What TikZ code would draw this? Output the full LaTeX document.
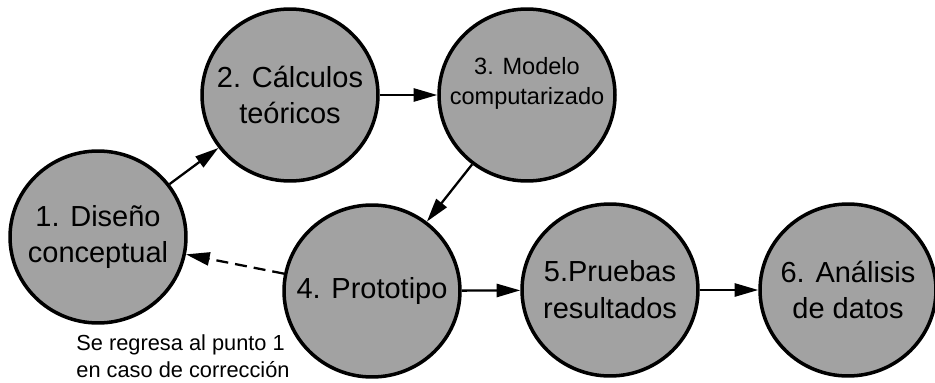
\documentclass[tikz,border=0pt]{standalone}
\usepackage{fontspec}
\setmainfont{Liberation Sans}
\usepackage{xcolor}
\definecolor{stagegray}{RGB}{162,162,162}
\usetikzlibrary{arrows.meta,shapes.geometric}
\tikzset{>={Triangle[length=13.5pt,width=7.5pt]}}
\tikzset{
  stage/.style={
    ellipse, draw=black, line width=2pt, fill=stagegray,
    minimum width=3.52cm, minimum height=3.44cm, inner xsep=-40pt, inner ysep=-20pt,
    align=center, font=\fontsize{16.5}{21}\selectfont
  }}
\tikzset{
  flow/.style={->, line width=1.3pt}}

\begin{document}
\begin{tikzpicture}[x=0.02cm,y=-0.02cm]
    \useasboundingbox (0,0) rectangle (935,382);
%   stages
    \node[stage](D) at (98,237) {1. Diseño\\conceptual};
    \node[stage](C) at (290,95) {2. Cálculos\\teóricos};
    \node[stage,font=\fontsize{13.4}{17}\selectfont,text depth=16pt](M) at (527,95) {3. Modelo\\computarizado};
    \node[stage](P) at (372,291) {4. Prototipo};
    \node[stage](R) at (610,290) {5.Pruebas\\resultados};
    \node[stage](A) at (848,290) {6. Análisis\\de datos};
    \node[align=left,font=\fontsize{12.4}{15.3}\selectfont](N) at (183,356) {Se regresa al punto 1\\en caso de corrección};
%   arrows
    \draw[flow] (D) -- (C);
    \draw[flow] (C) -- (M);
    \draw[flow] (M) -- (P);
    \draw[flow,dash pattern=on 6.8pt off 4pt] (P) -- (D);
    \draw[flow] (P) -- (R);
    \draw[flow] (R) -- (A);
\end{tikzpicture}
\end{document}
